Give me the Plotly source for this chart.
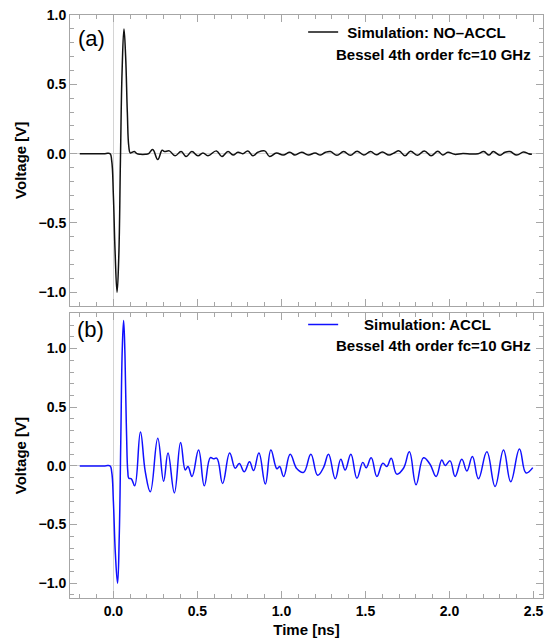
import plotly.graph_objects as go

# ---------------- data ----------------
# Panel (a): Simulation NO-ACCL, Bessel 4th order fc=10 GHz
t_a = [-0.2, -0.05, -0.02, -0.01, 0.0, 0.01, 0.022, 0.032, 0.042, 0.052, 0.063,
       0.073, 0.083, 0.092, 0.1, 0.112, 0.125, 0.14, 0.16, 0.19, 0.21, 0.234,
       0.264, 0.29, 0.304, 0.333, 0.367, 0.403, 0.433, 0.467, 0.503, 0.533,
       0.563, 0.613, 0.646, 0.682, 0.712, 0.741, 0.77, 0.8, 0.83, 0.86, 0.9,
       0.93, 0.97, 1.01, 1.05, 1.08, 1.12, 1.16, 1.2, 1.232, 1.262, 1.292,
       1.33, 1.37, 1.41, 1.45, 1.49, 1.53, 1.565, 1.6, 1.64, 1.67, 1.70,
       1.735, 1.768, 1.81, 1.85, 1.89, 1.93, 1.96, 1.99, 2.03, 2.08, 2.13,
       2.17, 2.204, 2.235, 2.26, 2.3, 2.33, 2.36, 2.4, 2.44, 2.47, 2.49]
v_a = [0.0, 0.0, 0.0, -0.05, -0.3, -0.7, -1.0, -0.75, -0.05, 0.6, 0.9,
       0.7, 0.3, 0.05, 0.005, 0.01, 0.016, 0.0, -0.005, -0.005, 0.0, 0.03,
       -0.043, 0.024, 0.015, 0.02, -0.015, 0.015, -0.02, 0.015, -0.015, 0.005,
       -0.015, 0.02, -0.02, 0.015, -0.01, 0.01, 0.0, 0.02, -0.015, 0.01, 0.02,
       -0.02, 0.005, -0.01, 0.01, -0.01, 0.01, -0.01, 0.005, -0.01, 0.01, 0.015,
       -0.012, 0.015, -0.012, 0.018, -0.01, 0.015, -0.008, 0.012, -0.01, 0.005, 0.02,
       -0.015, 0.018, -0.012, 0.02, -0.015, 0.018, -0.01, 0.01, -0.005, 0.002, -0.003,
       0.0, 0.015, -0.01, 0.015, -0.012, 0.01, 0.015, -0.01, 0.012, 0.0, -0.005]

# Panel (b): Simulation ACCL, Bessel 4th order fc=10 GHz
t_b = [-0.2, -0.05, -0.02, -0.01, 0.0, 0.012, 0.025, 0.035, 0.044, 0.053, 0.061,
       0.069, 0.078, 0.086, 0.092, 0.107, 0.127, 0.161, 0.19, 0.22, 0.264,
       0.299, 0.325, 0.363, 0.40, 0.428, 0.444, 0.468, 0.507, 0.541, 0.577,
       0.596, 0.616, 0.65, 0.692, 0.725, 0.749, 0.779, 0.81, 0.834, 0.866,
       0.904, 0.937, 0.973, 0.989, 1.013, 1.052, 1.092, 1.132, 1.175, 1.215,
       1.25, 1.28, 1.32, 1.353, 1.379, 1.413, 1.449, 1.484, 1.504, 1.534,
       1.568, 1.603, 1.627, 1.653, 1.686, 1.726, 1.761, 1.801, 1.845, 1.884,
       1.92, 1.954, 1.974, 2.003, 2.033, 2.073, 2.103, 2.136, 2.172, 2.222,
       2.271, 2.321, 2.364, 2.416, 2.455, 2.495]
v_b = [0.0, 0.0, 0.0, -0.05, -0.3, -0.75, -1.0, -0.6, 0.2, 1.0, 1.24,
       0.95, 0.3, -0.05, -0.105, -0.11, -0.17, 0.29, -0.05, -0.22, 0.235,
       -0.13, 0.11, -0.23, 0.20, -0.035, -0.005, -0.09, 0.135, -0.17, 0.07,
       0.06, 0.065, -0.15, 0.11, -0.02, 0.02, -0.05, 0.035, -0.04, 0.11,
       -0.155, 0.135, -0.025, -0.005, -0.09, 0.10, -0.025, -0.055, 0.10, -0.08,
       -0.015, 0.10, -0.11, 0.057, -0.035, 0.10, -0.105, 0.03, -0.015, 0.07,
       -0.09, 0.023, -0.005, 0.065, -0.07, -0.02, 0.12, -0.16, 0.07, 0.014,
       -0.09, 0.05, 0.003, 0.043, -0.09, 0.057, -0.043, 0.08, -0.11, 0.12,
       -0.175, 0.135, -0.135, 0.145, -0.06, -0.015]

name_a = "Simulation: NO\u2013ACCL"
name_b = "Simulation: ACCL"
filter_label = "Bessel 4th order fc=10 GHz"
panel_labels = ["(a)", "(b)"]

# ---------------- layout geometry (pixels) ----------------
W, H = 550, 643
L, R, T, B = 70, 542.7, 15, 598.3
PW, PH = R - L, B - T


def px_x(p):
    return (p - L) / PW


def px_y(p):
    return (B - p) / PH


FONT = "Liberation Sans, Arial, sans-serif"
FRAME = "#a6a6a6"

fig = go.Figure()
fig.add_trace(go.Scatter(x=t_a, y=v_a, mode="lines", name="\u00a0" + name_a,
                         line=dict(color="#111111", width=1.5, shape="spline", smoothing=1.2),
                         xaxis="x", yaxis="y", legend="legend"))
fig.add_trace(go.Scatter(x=t_b, y=v_b, mode="lines", name="\u00a0" * 5 + name_b,
                         line=dict(color="#1010ff", width=1.5, shape="spline", smoothing=1.2),
                         xaxis="x2", yaxis="y2", legend="legend2"))

common = dict(showline=True, linecolor=FRAME, linewidth=1, mirror="ticks",
              ticks="inside", ticklen=7, tickcolor=FRAME, tickwidth=1,
              showgrid=False, zeroline=True, zerolinecolor="#d4d4d4", zerolinewidth=1,
              automargin=False,
              tickfont=dict(family=FONT, size=14, color="black", weight="bold"),
              minor=dict(ticks="inside", ticklen=4, tickcolor=FRAME, dtick=0.1, showgrid=False))

xr = [-0.258, 2.556]
title_font = dict(family=FONT, size=15, color="black", weight="bold")
fig.update_layout(
    width=W, height=H,
    margin=dict(l=L, r=W - R, t=T, b=H - B),
    paper_bgcolor="white", plot_bgcolor="white",
    xaxis=dict(domain=[0, 1], anchor="y", range=xr, dtick=0.5, showticklabels=False,
               matches="x2", **common),
    yaxis=dict(domain=[px_y(305.7), 1], anchor="x", range=[-1.096, 1.0005], dtick=0.5,
               tickformat=".1f",
               title=dict(text="Voltage [V]", standoff=8, font=title_font),
               **common),
    xaxis2=dict(domain=[0, 1], anchor="y2", range=xr, dtick=0.5, tickformat=".1f",
                title=dict(text="Time [ns]", standoff=6, font=title_font),
                **common),
    yaxis2=dict(domain=[0, px_y(313.3)], anchor="x2", range=[-1.126, 1.302], dtick=0.5,
                tickformat=".1f",
                title=dict(text="Voltage [V]", standoff=8, font=title_font),
                **common),
    legend=dict(x=px_x(303), y=px_y(32.3), xanchor="left", yanchor="middle",
                bgcolor="rgba(0,0,0,0)", borderwidth=0,
                font=dict(family=FONT, size=15, color="black", weight="bold")),
    legend2=dict(x=px_x(303), y=px_y(325), xanchor="left", yanchor="middle",
                 bgcolor="rgba(0,0,0,0)", borderwidth=0,
                 font=dict(family=FONT, size=15, color="black", weight="bold")),
    showlegend=True,
)

ann_font = dict(family=FONT, size=15, color="black", weight="bold")
fig.add_annotation(x=px_x(433.4), y=px_y(55), xref="paper", yref="paper",
                   text=filter_label, showarrow=False, xanchor="center", yanchor="middle",
                   font=ann_font)
fig.add_annotation(x=px_x(433.4), y=px_y(345.7), xref="paper", yref="paper",
                   text=filter_label, showarrow=False, xanchor="center", yanchor="middle",
                   font=ann_font)
lab_font = dict(family=FONT, size=22, color="black")
fig.add_annotation(x=px_x(76), y=px_y(38.3), xref="paper", yref="paper",
                   text=panel_labels[0], showarrow=False, xanchor="left", yanchor="middle",
                   font=lab_font)
fig.add_annotation(x=px_x(75), y=px_y(330), xref="paper", yref="paper",
                   text=panel_labels[1], showarrow=False, xanchor="left", yanchor="middle",
                   font=lab_font)

fig.write_html("out.html", config={"displayModeBar": False},
               post_script="document.body.style.margin='0px';document.body.style.padding='0px';")
